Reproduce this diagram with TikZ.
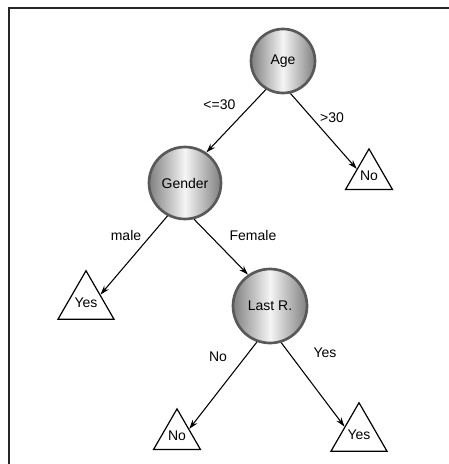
\documentclass[tikz,border=0pt]{standalone}
\usepackage{fontspec}
\setmainfont{Liberation Sans}
\usetikzlibrary{shapes.geometric,arrows.meta}
\begin{document}
\begin{tikzpicture}[x=0.75pt,y=-0.75pt,
  txt/.style={font=\fontsize{10.5}{12}\selectfont},
  dec/.style={circle, draw=black!65, line width=2pt, left color=black!50, right color=black!50, middle color=black!4, inner sep=0pt, txt},
  leaf/.style={regular polygon, regular polygon sides=3, draw, line width=0.9pt, minimum size=40.7pt, inner sep=0pt, txt},
  arr/.style={-{Stealth[length=7pt,width=4.5pt]}, line width=0.8pt},
  lab/.style={txt, inner sep=1pt}]
\useasboundingbox (0,0) rectangle (449,464);
\draw[line width=1.9pt, black!85] (9,464) -- (9,8) -- (449,8);
\node[dec, minimum size=48pt] (age) at (283,61) {Age};
\node[dec, minimum size=54pt] (gender) at (185,183) {Gender};
\node[dec, minimum size=55.5pt] (lastr) at (270,306) {Last R.};
\node[leaf] (noR) at (369,176) {No};
\node[leaf] (yesL) at (86,303) {Yes};
\node[leaf] (noB) at (177,436) {No};
\node[leaf] (yesB) at (359,435) {Yes};
\draw[arr] (age.239) -- (gender.55);
\draw[arr] (age.283) -- (noR.side 1);
\draw[arr] (gender.242) -- (yesL.side 3);
\draw[arr] (gender.284) -- (lastr.125);
\draw[arr] (lastr.250) -- (noB.side 3);
\draw[arr] (lastr.287) -- (yesB.side 1);
\node[lab, anchor=east] (l1) at (237,105) {<=30};
\node[lab] (l2) at (332,118) {>30};
\node[lab] (l3) at (126,235) {male};
\node[lab] (l4) at (253,235) {Female};
\node[lab] (l5) at (218,357) {No};
\node[lab] (l6) at (325,353) {Yes};
\end{tikzpicture}
\end{document}
